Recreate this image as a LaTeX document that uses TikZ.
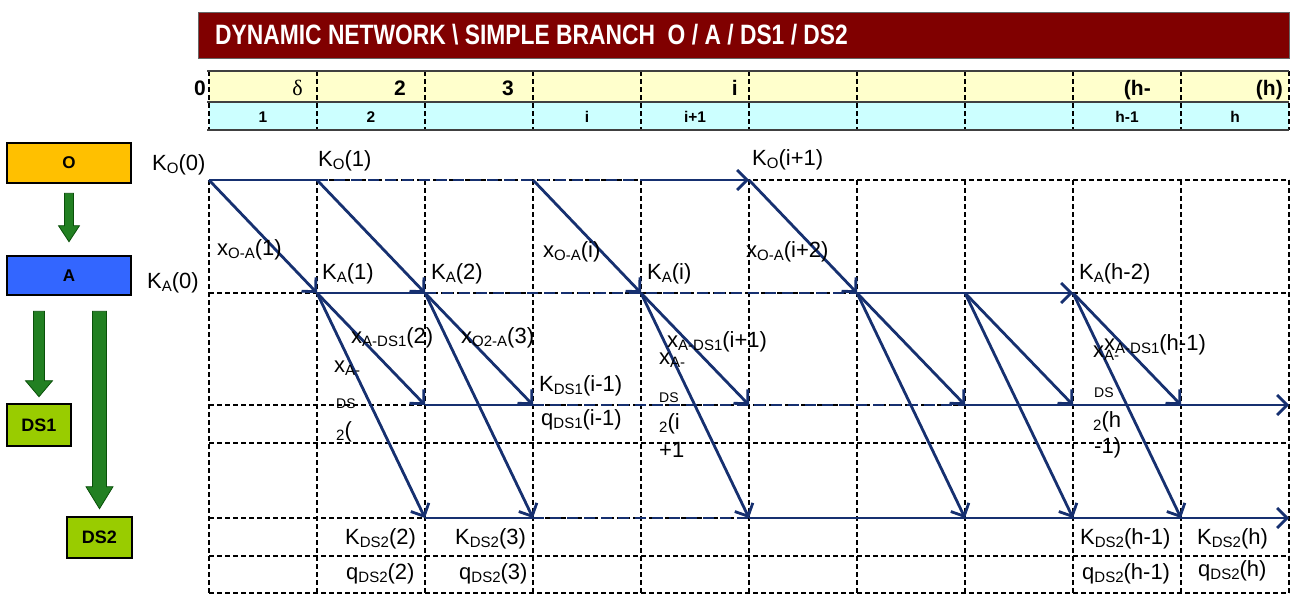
\documentclass[tikz,border=0pt]{standalone}
\usepackage{fontspec}
\setmainfont{Liberation Sans}
\newfontfamily\grkfont{Liberation Serif}
\usetikzlibrary{arrows.meta,calc}
\definecolor{navy}{RGB}{22,48,112}
\definecolor{titlered}{RGB}{128,0,0}
\definecolor{hdryellow}{RGB}{255,255,204}
\definecolor{hdrcyan}{RGB}{204,255,255}
\definecolor{boxO}{RGB}{255,192,0}
\definecolor{boxA}{RGB}{51,102,255}
\definecolor{boxDS}{RGB}{153,204,0}
\definecolor{garrowfill}{RGB}{34,128,34}
\definecolor{garrowdraw}{RGB}{10,80,10}
\newcommand\mysub[1]{\raisebox{-3.5pt}{\fontsize{15}{15}\selectfont #1}}
\newcommand\tinyds{{\fontsize{14}{14}\selectfont DS}}
% block arrow: #1 start, #2 tip, #3 shaft half width, #4 head half width, #5 head length
\newcommand\garr[5]{%
  \draw[garrow] let \p1=(#1), \p2=(#2) in
    (\x1-#3pt,\y1) -- (\x1+#3pt,\y1) -- (\x1+#3pt,\y2+#5pt) -- (\x1+#4pt,\y2+#5pt)
    -- (\x1,\y2) -- (\x1-#4pt,\y2+#5pt) -- (\x1-#3pt,\y2+#5pt) -- cycle;}
\begin{document}
\begin{tikzpicture}[x=1pt,y=-1pt,
  grid/.style={black, line width=1.4pt, dash pattern=on 5pt off 3pt},
  hdrline/.style={black!75, line width=2.6pt},
  flow/.style={navy, line width=2.8pt},
  dflow/.style={flow, dash pattern=on 11pt off 6pt},
  arr/.style={flow, -{Straight Barb[length=10pt,width=20pt]}},
  lab/.style={anchor=base west, inner sep=0pt, font=\fontsize{22}{22}\selectfont},
  hlab/.style={anchor=base east, inner sep=0pt, font=\fontsize{21}{21}\selectfont\bfseries},
  clab/.style={anchor=base, inner sep=0pt, font=\fontsize{15.5}{15.5}\selectfont\bfseries},
  box/.style={draw=black, line width=2.6pt, inner sep=0pt, font=\fontsize{17}{17}\selectfont\bfseries},
  garrow/.style={fill=garrowfill, draw=garrowdraw, line width=0.8pt},
]
\path[use as bounding box] (0,0) rectangle (1291,595);

% title bar
\draw[fill=titlered, draw=black!60, line width=0.8pt] (198,12) rectangle (1289,58);
\node[anchor=west, inner sep=0pt, text=white, font=\fontsize{28}{28}\selectfont\bfseries] (title) at (215,35)
  {\scalebox{0.815}[1]{DYNAMIC NETWORK \textbackslash{} SIMPLE BRANCH\ \ O / A / DS1 / DS2}};

% header table
\fill[hdryellow] (209,71) rectangle (1289,102);
\fill[hdrcyan] (209,102) rectangle (1289,130);
\foreach \k in {0,...,10} \draw[grid] ({209+108*\k},71) -- ({209+108*\k},130);
\draw[hdrline] (207,71) -- (1289,71);
\draw[hdrline] (207,102) -- (1289,102);
\draw[hdrline] (207,130) -- (1289,130);
\node[anchor=base, inner sep=0pt, font=\fontsize{21}{21}\selectfont\bfseries] (h0) at (200,95) {0};
\node[anchor=base east, inner sep=0pt, font=\fontsize{22}{22}\grkfont] (hdelta) at (303,95) {δ};
\node[hlab] (h2) at (406,95) {2};
\node[hlab] (h3) at (514,95) {3};
\node[hlab] (hi) at (738,95) {i};
\node[hlab] (hh1) at (1151,95) {(h-};
\node[hlab] (hh) at (1283,95) {(h)};
\node[clab] (c1) at (263,122) {1};
\node[clab] (c2) at (371,122) {2};
\node[clab] (ci) at (587,122) {i};
\node[clab] (ci1) at (695,122) {i+1};
\node[clab] (ch1) at (1127,122) {h-1};
\node[clab] (ch) at (1235,122) {h};

% left boxes
\node[box, fill=boxO, minimum width=124pt, minimum height=40pt] (bO) at (69,163) {O};
\node[box, fill=boxA, minimum width=124pt, minimum height=39pt] (bA) at (69,275.5) {A};
\node[box, fill=boxDS, minimum width=64pt, minimum height=42pt, font=\fontsize{18}{18}\selectfont\bfseries] (bD1) at (39,425) {DS1};
\node[box, fill=boxDS, minimum width=65pt, minimum height=41pt, font=\fontsize{18}{18}\selectfont\bfseries] (bD2) at (99.5,537.5) {DS2};
\garr{$(bO.south)+(0,9)$}{$(bA.north)+(0,-13)$}{4.5}{10.5}{16}
\garr{$(bA.south -| bD1.north)+(0,15)$}{$(bD1.north)+(0,-6)$}{5.5}{13.5}{16}
\garr{$(bA.south -| bD2.north)+(0,15)$}{$(bD2.north)+(0,-7)$}{7}{13.5}{22}

% grid
\foreach \y in {180,293,405,443,518,556,593} \draw[grid] (209,\y) -- (1289,\y);
\foreach \k in {0,...,10} \draw[grid] ({209+108*\k},180) -- ({209+108*\k},593);

% grid points
\foreach \k in {0,...,10} {
  \coordinate (O\k) at ({209+108*\k},180);
  \coordinate (A\k) at ({209+108*\k},293);
  \coordinate (S\k) at ({209+108*\k},405);
  \coordinate (T\k) at ({209+108*\k},518);
}

% horizontal flows
\draw[flow] (O0) -- (O1);
\draw[dflow] (O1) -- (O4);
\draw[arr] (O4) -- (O5);
\draw[flow] (A1) -- (A2);
\draw[dflow] (A2) -- (A6);
\draw[arr] (A6) -- (A8);
\draw[flow] (S2) -- (S3);
\draw[dflow] (S3) -- (S7);
\draw[arr] (S7) -- (S10);
\draw[flow] (T2) -- (T3);
\draw[dflow] (T3) -- (T5);
\draw[arr] (T5) -- (T10);

% diagonal flows
\foreach \a/\b in {0/1,1/2,3/4,5/6} \draw[arr] (O\a) -- (A\b);
\foreach \a/\b in {1/2,2/3,4/5,6/7,7/8,8/9} {
  \draw[arr] (A\a) -- (S\b);
  \draw[arr] (A\a) -- (T\b);
}

% labels
\node[lab] (kO0) at (152,170) {K\mysub{O}(0)};
\node[lab] (kO1) at (318,166) {K\mysub{O}(1)};
\node[lab] (kOi1) at (752,165) {K\mysub{O}(i+1)};
\node[lab] (kA0) at (147,288) {K\mysub{A}(0)};
\node[lab] (kA1) at (322,279) {K\mysub{A}(1)};
\node[lab] (kA2) at (431,279) {K\mysub{A}(2)};
\node[lab] (kAi) at (647,279) {K\mysub{A}(i)};
\node[lab] (kAh2) at (1079,279) {K\mysub{A}(h-2)};
\node[lab] (xOA1) at (217,255) {x\mysub{O-A}(1)};
\node[lab] (xOAi) at (543,257) {x\mysub{O-A}(i)};
\node[lab] (xOAi2) at (746,257) {x\mysub{O-A}(i+2)};
\node[lab] (xAD2) at (351,343) {x\mysub{A-DS1}(2)};
\node[lab] (xO2A3) at (461,343) {x\mysub{O2-A}(3)};
\node[lab] (xADi1) at (667,347) {x\mysub{A-DS1}(i+1)};
\node[lab] (xADh1) at (1104,350) {x\mysub{A-DS1}(h-1)};
\node[lab] (b1a) at (334,372) {x\mysub{A-}};
\node[lab] (b1b) at (336,408) {\tinyds};
\node[lab] (b1c) at (336,437) {\mysub{2}(};
\node[lab] (b2a) at (659,364) {x\mysub{A-}};
\node[lab] (b2b) at (659,402) {\tinyds};
\node[lab] (b2c) at (659,429) {\mysub{2}(i};
\node[lab] (b2d) at (659,457) {+1};
\node[lab] (b3a) at (1093,357) {x\mysub{A-}};
\node[lab] (b3b) at (1094,397) {\tinyds};
\node[lab] (b3c) at (1093,427) {\mysub{2}(h};
\node[lab] (b3d) at (1094,453) {-1)};
\node[lab] (kD1) at (539,391) {K\mysub{DS1}(i-1)};
\node[lab] (qD1) at (541,425) {q\mysub{DS1}(i-1)};
\node[lab] (kD22) at (345,544) {K\mysub{DS2}(2)};
\node[lab] (kD23) at (455,544) {K\mysub{DS2}(3)};
\node[lab] (kD2h1) at (1080,544) {K\mysub{DS2}(h-1)};
\node[lab] (kD2h) at (1197,544) {K\mysub{DS2}(h)};
\node[lab] (qD22) at (346,579) {q\mysub{DS2}(2)};
\node[lab] (qD23) at (459,579) {q\mysub{DS2}(3)};
\node[lab] (qD2h1) at (1082,579) {q\mysub{DS2}(h-1)};
\node[lab] (qD2h) at (1198,576) {q\mysub{DS2}(h)};
\end{tikzpicture}
\end{document}
